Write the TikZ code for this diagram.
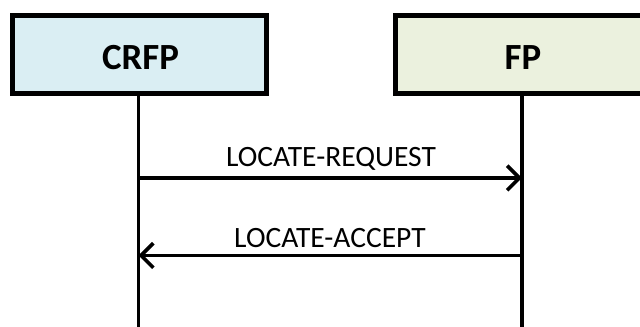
\documentclass[tikz,border=0pt]{standalone}
\usepackage{fontspec}
\setmainfont{Carlito}
\usetikzlibrary{arrows.meta}
\definecolor{boxblue}{HTML}{DAEEF3}
\definecolor{boxgreen}{HTML}{EBF1DE}
\begin{document}
\begin{tikzpicture}[x=0.02cm,y=-0.02cm,
  actor/.style={draw=black, line width=2.8pt},
  actorlbl/.style={font=\fontsize{21}{25}\selectfont\bfseries, anchor=base},
  life/.style={line width=2.2pt},
  msg/.style={line width=2.1pt, -{Straight Barb[length=7pt,width=14pt,line width=2.1pt]}},
  lbl/.style={font=\fontsize{16.8}{20}\selectfont, inner sep=0pt, anchor=base}]
\useasboundingbox (0,0) rectangle (640,327);
\clip (0,0) rectangle (640,327);
\draw[actor, fill=boxblue] (12.5,15.5) rectangle (266.5,93.5);
\node[actorlbl] (crfp) at (140.5,70) {CRFP};
\draw[actor, fill=boxgreen] (395.5,15.5) rectangle (700,93.5);
\node[actorlbl] (fp) at (523,70) {FP};
\coordinate (ltop) at (138.5,96);
\coordinate (lbot) at (138.5,330);
\coordinate (rtop) at (522,96);
\coordinate (rbot) at (522,330);
\draw[life] (ltop) -- (lbot);
\draw[life] (rtop) -- (rbot);
\coordinate (a1s) at (138.5,178);
\coordinate (a1e) at (522,178);
\coordinate (a2s) at (522,255.5);
\coordinate (a2e) at (138.5,255.5);
\draw[msg] (a1s) -- (a1e);
\draw[msg] (a2s) -- (a2e);
\node[lbl] (req) at (331,167) {LOCATE-REQUEST};
\node[lbl] (acc) at (330,248) {LOCATE-ACCEPT};
\end{tikzpicture}
\end{document}
